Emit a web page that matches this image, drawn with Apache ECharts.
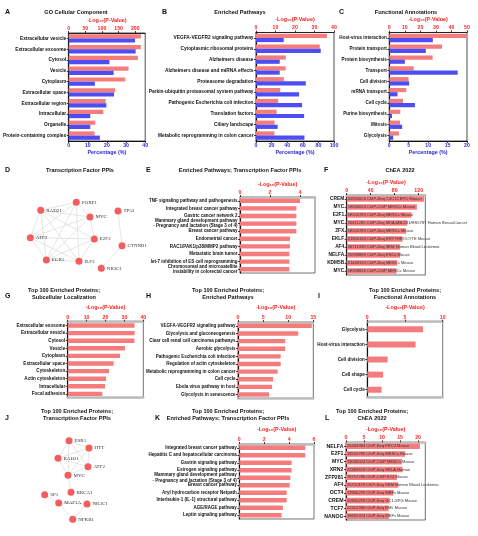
<!DOCTYPE html>
<html><head><meta charset="utf-8">
<script src="https://cdn.jsdelivr.net/npm/echarts@6/dist/echarts.min.js"></script>
<style>html,body{margin:0;padding:0;background:#fff}#c{width:478px;height:536px}</style>
</head><body><div id="c"></div><script>
// ---------- DATA ----------
const aCats = ['Extracellular vesicle','Extracellular exosome','Cytosol','Vesicle','Cytoplasm','Extracellular space','Extracellular region','Intracellular','Organelle','Protein-containing complex'];
const aLog = [217,217,208,180,170,140,111,104,80,78];
const aPct = [34.7,35,21.3,23.5,13.7,23.7,19.7,11.3,11.3,16.3];

const bCats = ['VEGFA-VEGFR2 signaling pathway','Cytoplasmic ribosomal proteins','Alzheimers disease','Alzheimers disease and miRNA effects','Proteasome degradation','Parkin-ubiquitin proteasomal system pathway','Pathogenic Escherichia coli infection','Translation factors','Ciliary landscape','Metabolic reprogramming in colon cancer'];
const bLog = [36.4,32.7,15.3,15.2,14.3,12.4,11.4,10.6,9.5,9.4];
const bPct = [35.5,83,30.4,30.4,63.8,55.2,59,61.7,27.8,62.1];

const cCats = ['Host-virus interaction','Protein transport','Protein biosynthesis','Transport','Cell division','mRNA transport','Cell cycle','Purine biosynthesis','Mitosis','Glycolysis'];
const cLog = [49.6,33.9,27.9,15.7,12.4,10.9,8.8,7.1,6.9,6.2];
const cPct = [11.2,9.4,4.0,17.6,5.1,2.1,6.6,0.7,3.3,1.0];

const eCats = ['TNF signaling pathway and pathogenesis','Integrated breast cancer pathway','Gastric cancer network 2','Mammary gland development pathway\n- Pregnancy and lactation (Stage 3 of 4)','Breast cancer pathway','Endometrial cancer','RAC1/PAK1/p38/MMP2 pathway','Metastatic brain tumor','let-7 inhibition of ES cell reprogramming','Chromosomal and microsatellite\ninstability in colorectal cancer'];
const eVals = [4.0,3.76,3.76,3.76,3.76,3.33,3.33,3.29,3.29,3.29];

const fCats = ['CREM','MYC','E2F1','MYC','ZFX','EKLF','AF4','NELFA','KDM5B','MYC'];
const fVals = [129,117,108,101,99,93,89,89,84,83];
const fTexts = ['20920020 ChIP-Seq C2C12 EPC Mouse','19030024 ChIP-ChIP MESCs Mouse','18555785 ChIP-Seq MESCs Mouse','20411285 ChIP-Seq MDA-MB-231/HS578T Human BreastCancer','18555785 ChIP-Seq MESCs Mouse','21900194 ChIP-Seq ERYTHROCYTE Mouse','26711339 ChIP-Seq SEM Human Blood Leukemia','25939888 ChIP-Seq ESCs Mouse','21448134 ChIP-Seq MESCs Mouse','18358816 ChIP-ChIP MESCs Mouse'];

const gCats = ['Extracellular exosome','Extracellular vesicle','Cytosol','Vesicle','Cytoplasm','Extracellular space','Cytoskeleton','Actin cytoskeleton','Intracellular','Focal adhesion'];
const gVals = [35.4,35.4,35.3,30.3,27.7,24.3,21.9,20.3,19.8,18.3];

const hCats = ['VEGFA-VEGFR2 signaling pathway','Glycolysis and gluconeogenesis','Clear cell renal cell carcinoma pathways','Aerobic glycolysis','Pathogenic Escherichia coli infection','Regulation of actin cytoskeleton','Metabolic reprogramming in colon cancer','Cell cycle','Ebola virus pathway in host','Glycolysis in senescence'];
const hVals = [14.7,12.0,9.4,9.4,8.5,8.5,7.9,7.0,6.8,6.2];

const iCats = ['Glycolysis','Host-virus interaction','Cell division','Cell shape','Cell cycle'];
const iVals = [7.4,6.4,2.7,2.1,1.9];

const kCats = ['Integrated breast cancer pathway','Hepatitis C and hepatocellular carcinoma','Gastrin signaling pathway','Estrogen signaling pathway','Mammary gland development pathway\n- Pregnancy and lactation (Stage 3 of 4)','Breast cancer pathway','Aryl hydrocarbon receptor Netpath','Interleukin-1 (IL-1) structural pathway','AGE/RAGE pathway','Leptin signaling pathway'];
const kVals = [5.3,5.3,4.2,4.2,4.1,4.05,3.8,3.8,3.5,3.4];

const lCats = ['NELFA','E2F1','MYC','XRN2','ZFP281','AF4','OCT4','CREM','TCF7','NANOG'];
const lVals = [20.5,16.4,15.5,15.7,14.1,14.5,13.2,12.1,11.8,11.9];
const lTexts = ['20434984 ChIP-Seq FRC4 Mouse','18555785 ChIP-Seq MESCs Mouse','19030024 ChIP-ChIP MESCs Mouse','22483619 ChIP-Seq HELA Human','18757296 ChIP-ChIP E14 Mouse','26711339 ChIP-Seq SEM Human Blood Leukemia','19906270 ChIP-Seq MEFs Mouse','20920259 ChIP-Seq GC1-SPG Mouse','22412390 ChIP-Seq EML Mouse','18692474 ChIP-Seq MEFs Mouse'];

// network D
const dNodes = ['RAD21','FOXP1','MYC','TP53','ATF2','E2F2','CTNNB1','EGR1','ILF3','NR3C1'];
const dX = [40.7,76.3,90,118,30.3,94.3,122,46.3,79,101.3];
const dY = [210.3,202.3,217,211,237.7,239,245.7,260,261.3,268.3];
const dEdges = [['RAD21','FOXP1'],['RAD21','MYC'],['RAD21','E2F2'],['RAD21','ILF3'],['RAD21','EGR1'],['RAD21','ATF2'],['FOXP1','MYC'],['FOXP1','ATF2'],['FOXP1','EGR1'],['FOXP1','ILF3'],['MYC','E2F2'],['MYC','EGR1'],['MYC','ATF2'],['E2F2','EGR1'],['E2F2','ILF3'],['E2F2','ATF2'],['ILF3','EGR1'],['ILF3','ATF2'],['ATF2','EGR1'],['TP53','CTNNB1'],['CTNNB1','NR3C1']];

// network J
const jNodes = ['ESR1','HTT','RAD21','ATF2','MYC','BRCA1','SP1','MAF1A','NR3C1','NFKB1'];
const jX = [69,89,58,88,68,71,44.7,58.7,87,72.7];
const jY = [440.7,448,458.3,466.7,475.3,492.3,494.7,503,504,519.3];
const jEdges = [['ESR1','HTT'],['ESR1','RAD21'],['ESR1','ATF2'],['ESR1','MYC'],['HTT','RAD21'],['HTT','ATF2'],['HTT','MYC'],['RAD21','ATF2'],['RAD21','MYC'],['ATF2','MYC'],['MYC','BRCA1'],['SP1','MAF1A'],['MAF1A','NR3C1'],['MAF1A','NFKB1'],['NR3C1','NFKB1']];

// ---------- BUILD ----------
const RED='#ff2020', BLUE='#2a2ad8', BARRED='#f47c7c', BARBLUE='#4d4df2';
const FONT='"Liberation Sans", Arial, sans-serif';
const LOGNAME='-Log\u2081\u2080(P-Value)';
const option={animation:false,backgroundColor:'#fff',textStyle:{fontFamily:FONT},title:[],grid:[],xAxis:[],yAxis:[],series:[]};

function txt(text,x,y,opt){
  option.title.push({text:text,left:x,top:y,textAlign:'center',textVerticalAlign:'middle',padding:0,
    textStyle:Object.assign({fontSize:5.6,fontWeight:'bold',color:'#111',fontFamily:FONT,lineHeight:6.6},opt||{})});
}
function letter(t,x,y){option.title.push({text:t,left:x,top:y,padding:0,textVerticalAlign:'middle',textStyle:{fontSize:7,fontWeight:'bold',color:'#111',fontFamily:FONT}});}

function catAxis(gi,cats,fs,bold){
  option.yAxis.push({type:'category',gridIndex:gi,data:cats,inverse:true,
    axisLine:{show:true,lineStyle:{color:'#111',width:1.2}},
    axisTick:{show:true,alignWithLabel:true,length:2,lineStyle:{color:'#111',width:0.8}},
    axisLabel:{fontSize:fs,color:'#111',fontWeight:bold?'bold':'normal',margin:2.5,lineHeight:fs*1.15,fontFamily:FONT,interval:0}});
  return option.yAxis.length-1;
}
function valAxis(gi,pos,max,interval,color,lineColor,lineWidth,name,nameGap){
  option.xAxis.push({type:'value',gridIndex:gi,position:pos,min:0,max:max,interval:interval,
    name:name||'',nameLocation:'middle',nameGap:nameGap||10,
    nameTextStyle:{color:color,fontSize:5.4,fontWeight:'bold',fontFamily:FONT},
    axisLine:{show:true,onZero:false,lineStyle:{color:lineColor,width:lineWidth}},
    axisTick:{show:true,length:2,lineStyle:{color:'#111',width:0.8}},
    axisLabel:{color:color,fontSize:5.2,margin:2,fontWeight:'bold',fontFamily:FONT,showMaxLabel:(max%interval===0)},
    splitLine:{show:false}});
  return option.xAxis.length-1;
}

function dualPanel(p){
  const gi=option.grid.length;
  option.grid.push({left:p.l,top:p.t,width:p.w,height:p.h,show:true,borderColor:'#222',borderWidth:0.8});
  const xt=valAxis(gi,'top',p.topMax,p.topInt,RED,'#222',1,LOGNAME,10);
  const xb=valAxis(gi,'bottom',p.botMax,p.botInt,BLUE,'#111',1.2,'Percentage (%)',9);
  const y=catAxis(gi,p.cats,p.fs,true);
  option.series.push({type:'bar',xAxisIndex:xt,yAxisIndex:y,data:p.log,barWidth:4.2,barGap:'0%',itemStyle:{color:BARRED}});
  option.series.push({type:'bar',xAxisIndex:xb,yAxisIndex:y,data:p.pct,barWidth:4.2,barGap:'0%',itemStyle:{color:BARBLUE}});
}
function singlePanel(p){
  const gi=option.grid.length;
  option.grid.push({left:p.l,top:p.t,width:p.w,height:p.h,show:true,borderColor:'#333',borderWidth:0.7});
  const xt=valAxis(gi,'top',p.max,p.int,RED,'#bdbdbd',2.5,LOGNAME,p.nameGap||9);
  if(p.bottomGray){option.xAxis.push({type:'value',gridIndex:gi,position:'bottom',min:0,max:p.max,axisLine:{show:true,lineStyle:{color:'#bdbdbd',width:2.5}},axisTick:{show:false},axisLabel:{show:false},splitLine:{show:false}});}
  const y=catAxis(gi,p.cats,p.fs,p.bold!==false);
  const s={type:'bar',xAxisIndex:xt,yAxisIndex:y,data:p.vals,barWidth:p.bw||4.4,itemStyle:{color:BARRED}};
  if(p.texts){
    s.data=p.vals.map((v,i)=>({value:v,label:{formatter:p.texts[i]}}));
    s.label={show:true,position:'insideLeft',distance:1,fontSize:4.1,color:'#333',fontFamily:FONT};
  }
  option.series.push(s);
}
function network(nodes,xs,ys,edges){
  const minX=Math.min(...xs),maxX=Math.max(...xs),minY=Math.min(...ys),maxY=Math.max(...ys);
  option.series.push({type:'graph',layout:'none',left:minX,top:minY,width:maxX-minX,height:maxY-minY,
    symbolSize:7,roam:false,
    itemStyle:{color:'#f35d5d'},
    label:{show:true,position:'right',distance:2,fontSize:5,color:'#333',fontFamily:'"Liberation Serif", serif'},
    lineStyle:{color:'#d4d4d4',width:0.6,opacity:1},
    data:nodes.map((n,i)=>({name:n,x:xs[i],y:ys[i]})),
    links:edges.map(e=>({source:e[0],target:e[1]}))});
}

// Row 1
letter('A',5,12); txt('GO Cellular Component',76,12);
dualPanel({l:67.7,t:33,w:77.5,h:108,topMax:230,topInt:50,botMax:40,botInt:10,cats:aCats,log:aLog,pct:aPct,fs:4.8});
letter('B',162,12); txt('Enriched Pathways',240,12);
dualPanel({l:256,t:32.5,w:78,h:108.5,topMax:40,topInt:10,botMax:100,botInt:20,cats:bCats,log:bLog,pct:bPct,fs:4.8});
letter('C',339,12); txt('Functional Annotations',406,12);
dualPanel({l:389.3,t:32.5,w:77.7,h:108.5,topMax:50,topInt:10,botMax:20,botInt:5,cats:cCats,log:cLog,pct:cPct,fs:4.6});

// Row 2
letter('D',5,170); txt('Transcription Factor PPIs',80,170);
network(dNodes,dX,dY,dEdges);
letter('E',146,170); txt('Enriched Pathways; Transcription Factor PPIs',240,170);
singlePanel({l:240,t:197,w:75,h:76,max:5,int:2,cats:eCats,vals:eVals,fs:4.5,nameGap:10});
letter('F',324,170); txt('ChEA 2022',400,170);
singlePanel({l:346.7,t:195,w:78.6,h:80,max:131,int:40,cats:fCats,vals:fVals,texts:fTexts,fs:4.8,bw:5.6,nameGap:10});

// Row 3
letter('G',5,296); txt('Top 100 Enriched Proteins;\nSubcellular Localization',64,294);
singlePanel({l:67.7,t:321.7,w:75.6,h:76,max:40,int:10,cats:gCats,vals:gVals,fs:4.6,bottomGray:true,nameGap:12});
letter('H',146,296); txt('Top 100 Enriched Proteins;\nEnriched Pathways',228,294);
singlePanel({l:238,t:322,w:75.3,h:76.3,max:15,int:5,cats:hCats,vals:hVals,fs:4.5,bottomGray:true,nameGap:12});
letter('I',318,296); txt('Top 100 Enriched Proteins;\nFunctional Annotations',405,294);
singlePanel({l:367.3,t:321.7,w:75.4,h:75.6,max:10,int:5,cats:iCats,vals:iVals,fs:4.6,bw:6,bottomGray:true,nameGap:12});

// Row 4
letter('J',5,418); txt('Top 100 Enriched Proteins;\nTranscription Factor PPIs',77,415);
network(jNodes,jX,jY,jEdges);
letter('K',155,418); txt('Top 100 Enriched Proteins;\nEnriched Pathways; Transcription Factor PPIs',228,415);
singlePanel({l:239.3,t:444,w:74.7,h:75,max:6,int:2,cats:kCats,vals:kVals,fs:4.5,nameGap:12});
letter('L',325,418); txt('Top 100 Enriched Proteins;\nChEA 2022',372,415);
singlePanel({l:346,t:442.3,w:79.3,h:77.7,max:22,int:5,cats:lCats,vals:lVals,texts:lTexts,fs:5.2,bw:5.6,nameGap:10});

const chart=echarts.init(document.getElementById('c'),null,{renderer:'canvas'});
chart.setOption(option);
</script></body></html>
